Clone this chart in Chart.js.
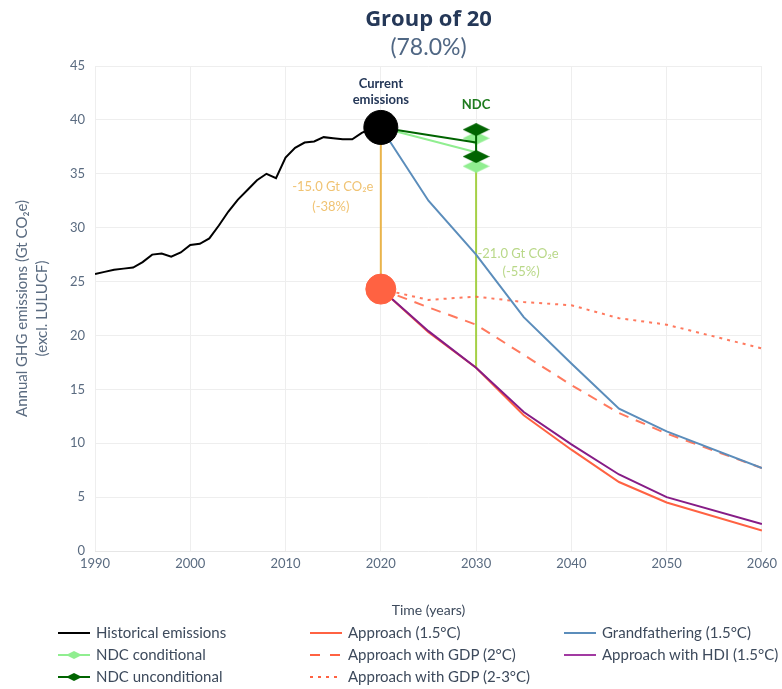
<!DOCTYPE html>
<html>
<head>
<meta charset="utf-8">
<script src="https://cdn.jsdelivr.net/npm/chart.js"></script>
<style>
  body { margin: 0; background: #fff; font-family: Lato, "Open Sans", sans-serif; }
  #wrap { position: relative; width: 782px; height: 689px; }
  .item { position: absolute; font-size: 15px; color: #3d4a5c; line-height: 16px; white-space: nowrap; }
  .item svg { vertical-align: middle; margin-right: 6px; position: relative; top: -1px; }
</style>
</head>
<body>
<div id="wrap">
  <canvas id="chart" width="782" height="689"></canvas>
  <div id="legend"></div>
</div>
<script>
// historical emissions, Gt CO2e
const histYears = [1990, 1991, 1992, 1993, 1994, 1995, 1996, 1997, 1998, 1999, 2000,
  2001, 2002, 2003, 2004, 2005, 2006, 2007, 2008, 2009, 2010,
  2011, 2012, 2013, 2014, 2015, 2016, 2017, 2018, 2019, 2020];
const histValues = [25.7, 25.9, 26.1, 26.2, 26.3, 26.8, 27.5, 27.6, 27.3, 27.7, 28.4,
  28.5, 29.0, 30.2, 31.5, 32.6, 33.5, 34.4, 35.0, 34.6, 36.5,
  37.4, 37.9, 38.0, 38.4, 38.3, 38.2, 38.2, 38.8, 39.2, 39.3];

// pathways
const projYears = [2020, 2025, 2030, 2035, 2040, 2045, 2050, 2060];
const approach15 = [24.3, 20.3, 17.0, 12.6, 9.4, 6.4, 4.5, 1.9];
const hdi15 = [24.3, 20.4, 17.0, 12.9, 9.9, 7.1, 5.0, 2.5];
const gdp2 = [24.3, 22.6, 21.0, 18.2, 15.4, 12.8, 10.9, 7.7];
const gdp23 = [24.3, 23.3, 23.6, 23.1, 22.8, 21.6, 21.0, 18.8];
const grandfathering = [39.3, 32.5, 27.5, 21.7, 17.4, 13.2, 11.1, 7.7];

// markers
const currentYear = 2020;
const currentEmissions = 39.3;
const target2020 = 24.3;
const ndcYear = 2030;
const ndcUncond = [36.6, 39.1];
const ndcUncondMid = 37.9;
const ndcCond = [35.7, 38.3];
const ndcCondMid = 37.0;
const target2030 = 17.0;

const xTicks = [1990, 2000, 2010, 2020, 2030, 2040, 2050, 2060];
const yTicks = [0, 5, 10, 15, 20, 25, 30, 35, 40, 45];

const pts = (xs, ys) => xs.map((x, i) => ({ x: x, y: ys[i] }));

function diamond(color, w, h) {
  const c = document.createElement('canvas');
  c.width = w; c.height = h;
  const g = c.getContext('2d');
  g.fillStyle = color;
  g.beginPath();
  g.moveTo(w / 2, 0); g.lineTo(w, h / 2); g.lineTo(w / 2, h); g.lineTo(0, h / 2);
  g.closePath(); g.fill();
  return c;
}

const RED = '#ff6242';
const FONT = 'Lato, "Open Sans", sans-serif';

const textPlugin = {
  id: 'texts',
  afterDraw(chart) {
    const ctx = chart.ctx, a = chart.chartArea;
    const xs = chart.scales.x, ys = chart.scales.y;
    const cx = (a.left + a.right) / 2;
    ctx.save();
    ctx.textAlign = 'center';
    ctx.textBaseline = 'middle';
    ctx.fillStyle = '#253858';
    ctx.font = 'bold 22px "Open Sans", ' + FONT;
    ctx.fillText('Group of 20', cx, 20);
    ctx.fillStyle = '#506784';
    ctx.font = '23px ' + FONT;
    ctx.fillText('(78.0%)', cx, 48);

    const x20 = xs.getPixelForValue(currentYear);
    const x30 = xs.getPixelForValue(ndcYear);
    ctx.fillStyle = '#253858';
    ctx.font = 'bold 13px ' + FONT;
    ctx.fillText('Current', x20, 84);
    ctx.fillText('emissions', x20, 100);
    ctx.fillStyle = '#1e7b1e';
    ctx.fillText('NDC', x30, 105);

    ctx.font = '13px ' + FONT;
    ctx.fillStyle = '#f0c373';
    const y15 = ys.getPixelForValue(33.8);
    ctx.fillText('-15.0 Gt CO₂e', x20 - 48, y15);
    ctx.fillText('(-38%)', x20 - 50, y15 + 20);
    ctx.fillStyle = '#b9d888';
    const y21 = ys.getPixelForValue(27.6);
    ctx.fillText('-21.0 Gt CO₂e', x30 + 42, y21);
    ctx.fillText('(-55%)', x30 + 45, y21 + 18);
    ctx.restore();
  }
};

const tickColor = '#5a6b80';

new Chart(document.getElementById('chart'), {
  type: 'line',
  data: {
    datasets: [
      { label: 'Current emissions', data: [{ x: currentYear, y: currentEmissions }], showLine: false,
        pointRadius: 17, pointBackgroundColor: '#000', pointBorderColor: '#000', borderColor: '#000' },
      { label: 'Target', data: [{ x: currentYear, y: target2020 }], showLine: false,
        pointRadius: 15, pointBackgroundColor: RED, pointBorderColor: RED, borderColor: RED },
      { label: 'NDC unconditional', data: pts([ndcYear, ndcYear], ndcUncond), borderColor: '#006400',
        borderWidth: 2, pointRadius: 7, pointStyle: diamond('#006400', 27, 13) },
      { label: 'NDC unconditional line', data: pts([currentYear, ndcYear], [currentEmissions, ndcUncondMid]),
        borderColor: '#006400', borderWidth: 2 },
      { label: 'NDC conditional', data: pts([ndcYear, ndcYear], ndcCond), borderColor: '#90ee90',
        borderWidth: 2, pointRadius: 7, pointStyle: diamond('#90ee90', 27, 13) },
      { label: 'NDC conditional line', data: pts([currentYear, ndcYear], [currentEmissions, ndcCondMid]),
        borderColor: '#90ee90', borderWidth: 2 },
      { label: 'Historical emissions', data: pts(histYears, histValues), borderColor: '#000', borderWidth: 2 },
      { label: 'Approach with HDI (1.5°C)', data: pts(projYears, hdi15), borderColor: '#861c86', borderWidth: 2 },
      { label: 'Approach (1.5°C)', data: pts(projYears, approach15), borderColor: RED, borderWidth: 2 },
      { label: 'Grandfathering (1.5°C)', data: pts(projYears, grandfathering), borderColor: '#5b8dbb', borderWidth: 2 },
      { label: 'Approach with GDP (2°C)', data: pts(projYears, gdp2), borderColor: 'rgba(255,98,66,0.85)',
        borderWidth: 2, borderDash: [10, 8] },
      { label: 'Approach with GDP (2-3°C)', data: pts(projYears, gdp23), borderColor: 'rgba(255,98,66,0.85)',
        borderWidth: 2, borderDash: [3, 5] },
      { label: 'Reduction 2020', data: pts([currentYear, currentYear], [currentEmissions, target2020]),
        borderColor: '#e9b44c', borderWidth: 2 },
      { label: 'Reduction 2030', data: pts([ndcYear, ndcYear], [ndcCondMid, target2030]),
        borderColor: '#a5d046', borderWidth: 2 }
    ]
  },
  options: {
    responsive: false,
    devicePixelRatio: 1,
    animation: false,
    elements: { line: { tension: 0, fill: false }, point: { radius: 0, hoverRadius: 0 } },
    layout: { padding: { top: 66, right: 15, bottom: 68, left: 0 } },
    plugins: { legend: { display: false }, title: { display: false }, tooltip: { enabled: false } },
    scales: {
      x: {
        type: 'linear', min: 1990, max: 2060,
        afterBuildTicks: s => { s.ticks = xTicks.map(v => ({ value: v })); },
        afterFit: s => { s.height = 70; },
        ticks: { color: tickColor, font: { size: 13, family: FONT }, padding: 5, callback: v => String(v) },
        grid: { color: '#eeeeee', drawTicks: false },
        border: { color: '#e6e6e6' },
        title: { display: true, text: 'Time (years)', color: '#3d4a5c', font: { size: 14, family: FONT },
          padding: { top: 0, bottom: 2 } }
      },
      y: {
        min: 0, max: 45,
        afterBuildTicks: s => { s.ticks = yTicks.map(v => ({ value: v })); },
        afterFit: s => { s.width = 95; },
        ticks: { color: tickColor, font: { size: 13, family: FONT }, padding: 10 },
        grid: { color: '#eeeeee', drawTicks: false },
        border: { display: false },
        title: { display: true, text: ['Annual GHG emissions (Gt CO₂e)', '(excl. LULUCF)'], color: tickColor,
          font: { size: 15, family: FONT, lineHeight: 1.35 }, padding: { top: 12, bottom: 0 } }
      }
    }
  },
  plugins: [textPlugin]
});

// legend (3 columns)
const legendItems = [
  { col: 0, row: 0, text: 'Historical emissions', color: '#000' },
  { col: 0, row: 1, text: 'NDC conditional', color: '#90ee90', marker: true },
  { col: 0, row: 2, text: 'NDC unconditional', color: '#006400', marker: true },
  { col: 1, row: 0, text: 'Approach (1.5°C)', color: RED },
  { col: 1, row: 1, text: 'Approach with GDP (2°C)', color: RED, dash: '10,10' },
  { col: 1, row: 2, text: 'Approach with GDP (2-3°C)', color: RED, dash: '3,5' },
  { col: 2, row: 0, text: 'Grandfathering (1.5°C)', color: '#5b8dbb' },
  { col: 2, row: 1, text: 'Approach with HDI (1.5°C)', color: '#a23aa2' }
];
const colX = [58, 310, 564];
const rowY = [632, 654, 676];
const lg = document.getElementById('legend');
legendItems.forEach(it => {
  const d = document.createElement('div');
  d.className = 'item';
  d.style.left = colX[it.col] + 'px';
  d.style.top = (rowY[it.row] - 8) + 'px';
  let svg = '<svg width="32" height="14"><line x1="0" y1="7" x2="32" y2="7" stroke="' + it.color +
    '" stroke-width="2"' + (it.dash ? ' stroke-dasharray="' + it.dash + '"' : '') + '/>';
  if (it.marker) svg += '<polygon points="8,7 16,3 24,7 16,11" fill="' + it.color + '"/>';
  svg += '</svg>';
  d.innerHTML = svg + it.text;
  lg.appendChild(d);
});
</script>
</body>
</html>
